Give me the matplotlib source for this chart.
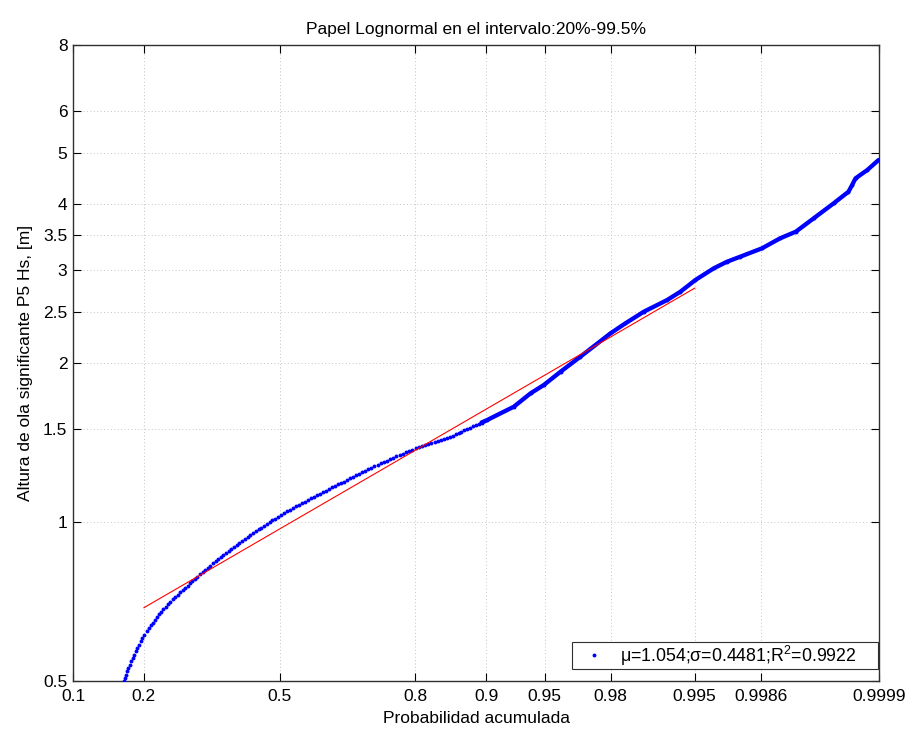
import math
import numpy as np
import matplotlib
matplotlib.use("Agg")
import matplotlib.pyplot as plt
from matplotlib.ticker import FixedLocator, FixedFormatter, NullLocator
from matplotlib.patches import Rectangle
from matplotlib.transforms import IdentityTransform

plt.rcParams['font.family'] = ['Liberation Sans', 'DejaVu Sans']
plt.rcParams['mathtext.fontset'] = 'custom'
plt.rcParams['mathtext.rm'] = 'Liberation Sans'
plt.rcParams['mathtext.it'] = 'Liberation Sans:italic'

# Empirical distribution of significant wave height at buoy P5
hs_obs = [
    0.500, 0.507, 0.514, 0.522, 0.529, 0.537, 0.545, 0.553, 0.561, 0.569,
    0.577, 0.585, 0.594, 0.602, 0.611, 0.621, 0.629, 0.637, 0.645, 0.653,
    0.661, 0.669, 0.676, 0.684, 0.691, 0.699, 0.706, 0.714, 0.721, 0.728,
    0.736, 0.743, 0.751, 0.758, 0.766, 0.773, 0.780, 0.788, 0.796, 0.804,
    0.811, 0.819, 0.827, 0.835, 0.843, 0.851, 0.859, 0.866, 0.874, 0.882,
    0.890, 0.898, 0.906, 0.914, 0.921, 0.929, 0.937, 0.945, 0.953, 0.961,
    0.968, 0.976, 0.984, 0.992, 1.000, 1.007, 1.015, 1.023, 1.031, 1.039,
    1.047, 1.054, 1.062, 1.070, 1.078, 1.085, 1.093, 1.101, 1.109, 1.117,
    1.124, 1.132, 1.140, 1.147, 1.155, 1.163, 1.170, 1.178, 1.186, 1.193,
    1.201, 1.209, 1.217, 1.226, 1.234, 1.242, 1.250, 1.259, 1.267, 1.275,
    1.283, 1.292, 1.300, 1.307, 1.315, 1.323, 1.331, 1.339, 1.347, 1.355,
    1.363, 1.371, 1.379, 1.385, 1.391, 1.397, 1.403, 1.409, 1.416, 1.422,
    1.428, 1.434, 1.440, 1.449, 1.457, 1.466, 1.474, 1.483, 1.492, 1.500,
    1.509, 1.517, 1.526, 1.534, 1.543, 1.551, 1.560,
    1.653, 1.752, 1.817, 1.925, 2.056, 2.276, 2.378, 2.501, 2.632, 2.729,
    2.872, 3.022, 3.110, 3.179, 3.297, 3.444, 3.545, 3.758, 4.012, 4.220,
    4.345, 4.474, 4.638, 4.846,
]
p_obs = [
    0.16660, 0.16838, 0.17017, 0.17226, 0.17413, 0.17639, 0.17870, 0.18102, 0.18336, 0.18605,
    0.18877, 0.19146, 0.19467, 0.19747, 0.20076, 0.20496, 0.20851, 0.21204, 0.21570, 0.21936,
    0.22306, 0.22672, 0.23025, 0.23491, 0.23957, 0.24428, 0.24911, 0.25394, 0.25880, 0.26379,
    0.26874, 0.27373, 0.27885, 0.28399, 0.28913, 0.29432, 0.29961, 0.30489, 0.31057, 0.31635,
    0.32212, 0.32796, 0.33387, 0.33977, 0.34570, 0.35172, 0.35774, 0.36378, 0.36994, 0.37607,
    0.38221, 0.38843, 0.39495, 0.40152, 0.40814, 0.41479, 0.42141, 0.42809, 0.43480, 0.44149,
    0.44826, 0.45499, 0.46172, 0.46852, 0.47529, 0.48209, 0.48887, 0.49569, 0.50247, 0.50997,
    0.51747, 0.52491, 0.53239, 0.53987, 0.54731, 0.55475, 0.56213, 0.56952, 0.57690, 0.58424,
    0.59155, 0.59890, 0.60612, 0.61338, 0.62056, 0.62767, 0.63482, 0.64185, 0.64888, 0.65586,
    0.66271, 0.66956, 0.67635, 0.68301, 0.68971, 0.69629, 0.70283, 0.70935, 0.71567, 0.72203,
    0.72831, 0.73447, 0.74094, 0.74727, 0.75353, 0.75976, 0.76580, 0.77184, 0.77774, 0.78356,
    0.78936, 0.79496, 0.80055, 0.80598, 0.81132, 0.81664, 0.82174, 0.82686, 0.83184, 0.83670,
    0.84158, 0.84620, 0.85085, 0.85493, 0.85891, 0.86288, 0.86670, 0.87048, 0.87423, 0.87781,
    0.88135, 0.88491, 0.88825, 0.89158, 0.89488, 0.89803, 0.90116,
    0.92694, 0.94025, 0.94942, 0.95933, 0.96902, 0.97997, 0.98407, 0.98808, 0.99191, 0.99356,
    0.99506, 0.99647, 0.99725, 0.99787, 0.99862, 0.99905, 0.99932, 0.99954, 0.999707, 0.999792,
    0.999809, 0.999824, 0.999867, 0.999899,
]

# Fitted lognormal: mean and standard deviation of Hs, goodness of fit
mu_hs = 1.054
sigma_hs = 0.4481
r2 = 0.9922
p_fit_range = [0.2, 0.995]

x_ticks = [0.1, 0.2, 0.5, 0.8, 0.9, 0.95, 0.98, 0.995, 0.9986, 0.9999]
x_tick_labels = ['0.1', '0.2', '0.5', '0.8', '0.9', '0.95', '0.98', '0.995', '0.9986', '0.9999']
y_ticks = [0.5, 1, 1.5, 2, 2.5, 3, 3.5, 4, 5, 6, 8]
y_tick_labels = ['0.5', '1', '1.5', '2', '2.5', '3', '3.5', '4', '5', '6', '8']


# Normal quantile (Acklam's rational approximation) and its inverse
_A = [-3.969683028665376e+01, 2.209460984245205e+02, -2.759285104469687e+02,
      1.383577518672690e+02, -3.066479806614716e+01, 2.506628277459239e+00]
_B = [-5.447609879822406e+01, 1.615858368580409e+02, -1.556989798598866e+02,
      6.680131188771972e+01, -1.328068155288572e+01]
_C = [-7.784894002430293e-03, -3.223964580411365e-01, -2.400758277161838e+00,
      -2.549732539343734e+00, 4.374664141464968e+00, 2.938163982698783e+00]
_D = [7.784695709041462e-03, 3.224671290700398e-01, 2.445134137142996e+00,
      3.754408661907416e+00]


def norm_ppf(p):
    p = np.asarray(p, dtype=float)
    shape = p.shape
    p = np.clip(p.ravel(), 1e-12, 1 - 1e-12)
    z = np.empty_like(p)
    plow = 0.02425
    lo = p < plow
    hi = p > 1 - plow
    mid = ~(lo | hi)
    q = p[mid] - 0.5
    r = q * q
    z[mid] = ((((((_A[0] * r + _A[1]) * r + _A[2]) * r + _A[3]) * r + _A[4]) * r + _A[5]) * q /
              (((((_B[0] * r + _B[1]) * r + _B[2]) * r + _B[3]) * r + _B[4]) * r + 1))
    for sel, sign, base in ((lo, 1.0, p[lo]), (hi, -1.0, 1 - p[hi])):
        q = np.sqrt(-2 * np.log(base))
        z[sel] = sign * (((((_C[0] * q + _C[1]) * q + _C[2]) * q + _C[3]) * q + _C[4]) * q + _C[5]) / \
            ((((_D[0] * q + _D[1]) * q + _D[2]) * q + _D[3]) * q + 1)
    return z.reshape(shape)


_erf = np.vectorize(math.erf, otypes=[float])


def norm_cdf(z):
    z = np.asarray(z, dtype=float)
    return 0.5 * (1.0 + _erf(z / math.sqrt(2.0)))


# Lognormal parameters of ln(Hs) from mean and standard deviation
s2 = math.log(1.0 + (sigma_hs / mu_hs) ** 2)
m_ln = math.log(mu_hs) - 0.5 * s2
s_ln = math.sqrt(s2)
hs_fit = [math.exp(m_ln + s_ln * float(norm_ppf(pf))) for pf in p_fit_range]

p_arr = np.array(p_obs)
hs_arr = np.array(hs_obs)
dense = p_arr >= 0.893

fig = plt.figure(figsize=(9.06, 7.30), dpi=100)
ax = fig.add_axes([0.0806, 0.0671, 0.8896, 0.8713])
ax.set_xscale('function', functions=(norm_ppf, norm_cdf))
ax.set_yscale('log')

ax.plot(p_arr, hs_arr, linestyle='none', marker='o', markersize=2.8,
        markeredgewidth=0, color=(0, 0, 1), zorder=3,
        label=f'μ={mu_hs};σ={sigma_hs};R$^2$={r2}')
ax.plot(p_arr[dense], hs_arr[dense], linestyle='-', linewidth=3.1,
        color=(0, 0, 1), solid_capstyle='round', solid_joinstyle='round', zorder=3)
ax.plot(p_fit_range, hs_fit, color=(1, 0, 0), linewidth=0.8, zorder=4)

ax.set_xlim(0.1, 0.9999)
ax.set_ylim(0.5, 8)

ax.xaxis.set_major_locator(FixedLocator(x_ticks))
ax.xaxis.set_major_formatter(FixedFormatter(x_tick_labels))
ax.xaxis.set_minor_locator(NullLocator())
ax.yaxis.set_major_locator(FixedLocator(y_ticks))
ax.yaxis.set_major_formatter(FixedFormatter(y_tick_labels))
ax.yaxis.set_minor_locator(NullLocator())

ax.grid(True, which='major', color='#c4c4c4', linestyle=(0, (1, 2.5)), linewidth=0.7)
ax.set_axisbelow(True)
ax.tick_params(axis='both', which='major', direction='in', length=5.5, width=0.8,
               top=True, right=True, labelsize=12.5, colors='black')
ax.tick_params(axis='x', pad=6)
ax.tick_params(axis='y', pad=4)
for sp in ax.spines.values():
    sp.set_color('#303030')
    sp.set_linewidth(1.0)

ax.set_title('Papel Lognormal en el intervalo:20%-99.5%', fontsize=12.5, pad=8)
ax.set_xlabel('Probabilidad acumulada', fontsize=12.5, labelpad=5)
ax.set_ylabel('Altura de ola significante P5 Hs, [m]', fontsize=12.5, labelpad=7)

leg = ax.legend(loc='lower left', bbox_to_anchor=(0.619, 0.019), borderaxespad=0,
                fontsize=12.8, numpoints=1, handlelength=2.3, handletextpad=0.3,
                borderpad=0.08, frameon=False)
leg.set_zorder(6)

# Legend box reaching to the right edge of the axes
fig.canvas.draw()
lb = leg.get_window_extent()
axb = ax.get_window_extent()
frame = Rectangle((lb.x0, lb.y0), (axb.x1 - 1.5) - lb.x0, lb.height,
                  transform=IdentityTransform(), facecolor='white',
                  edgecolor='#303030', linewidth=0.8, zorder=5.5, clip_on=False)
ax.add_artist(frame)

fig.savefig('out.png', dpi=100)
